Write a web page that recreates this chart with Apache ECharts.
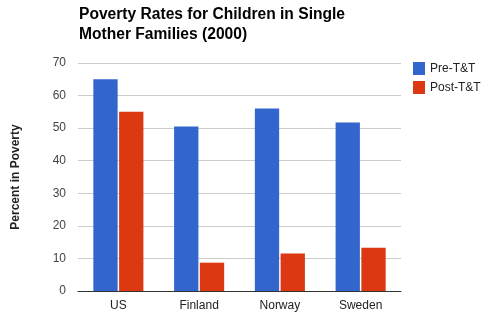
<!DOCTYPE html>
<html>
<head>
<meta charset="utf-8">
<script src="https://cdn.jsdelivr.net/npm/echarts@6/dist/echarts.min.js"></script>
<style>
html,body{margin:0;padding:0;background:#fff;}
#c{width:497px;height:324px;}
</style>
</head>
<body>
<div id="c"></div>
<script>
const categories = ['US', 'Finland', 'Norway', 'Sweden'];
const preTT = [65, 50.5, 56, 51.7];
const postTT = [55, 8.7, 11.5, 13.3];
const seriesNames = ['Pre-T&T', 'Post-T&T'];
const yTicks = { min: 0, max: 70, interval: 10 };

const chart = echarts.init(document.getElementById('c'), null, { renderer: 'canvas' });
chart.setOption({
  animation: false,
  backgroundColor: '#ffffff',
  title: {
    text: 'Poverty Rates for Children in Single\nMother Families (2000)',
    left: 79, top: 5, padding: 0,
    textStyle: { fontFamily: 'Liberation Sans, Arial', fontWeight: 'bold', fontSize: 15.6, color: '#000', lineHeight: 20 }
  },
  legend: {
    orient: 'vertical',
    left: 413, top: 62, padding: 0,
    itemWidth: 12, itemHeight: 13, itemGap: 6,
    icon: 'rect',
    textStyle: { fontFamily: 'Liberation Sans, Arial', fontSize: 12, color: '#222', padding: [0, 0, 0, 0] },
    data: seriesNames
  },
  grid: { left: 78, right: 96, top: 63, bottom: 33, containLabel: false },
  xAxis: {
    type: 'category',
    data: categories,
    axisLine: { lineStyle: { color: '#333', width: 1 } },
    axisTick: { show: false },
    axisLabel: { fontFamily: 'Liberation Sans, Arial', fontSize: 12, color: '#222', margin: 9 }
  },
  yAxis: {
    type: 'value',
    min: yTicks.min, max: yTicks.max, interval: yTicks.interval,
    name: 'Percent in Poverty',
    nameLocation: 'middle',
    nameGap: 56,
    nameTextStyle: { fontFamily: 'Liberation Sans, Arial', fontWeight: 'bold', fontSize: 12, color: '#222' },
    axisLine: { show: false },
    axisTick: { show: false },
    axisLabel: { fontFamily: 'Liberation Sans, Arial', fontSize: 12, color: '#444', margin: 12 },
    splitLine: { lineStyle: { color: '#cccccc', width: 1 } }
  },
  series: [
    { name: seriesNames[0], type: 'bar', data: preTT, itemStyle: { color: '#3366cc' }, barGap: '6%', barCategoryGap: '38%' },
    { name: seriesNames[1], type: 'bar', data: postTT, itemStyle: { color: '#dc3912' }, barGap: '6%', barCategoryGap: '38%' }
  ]
});
</script>
</body>
</html>
